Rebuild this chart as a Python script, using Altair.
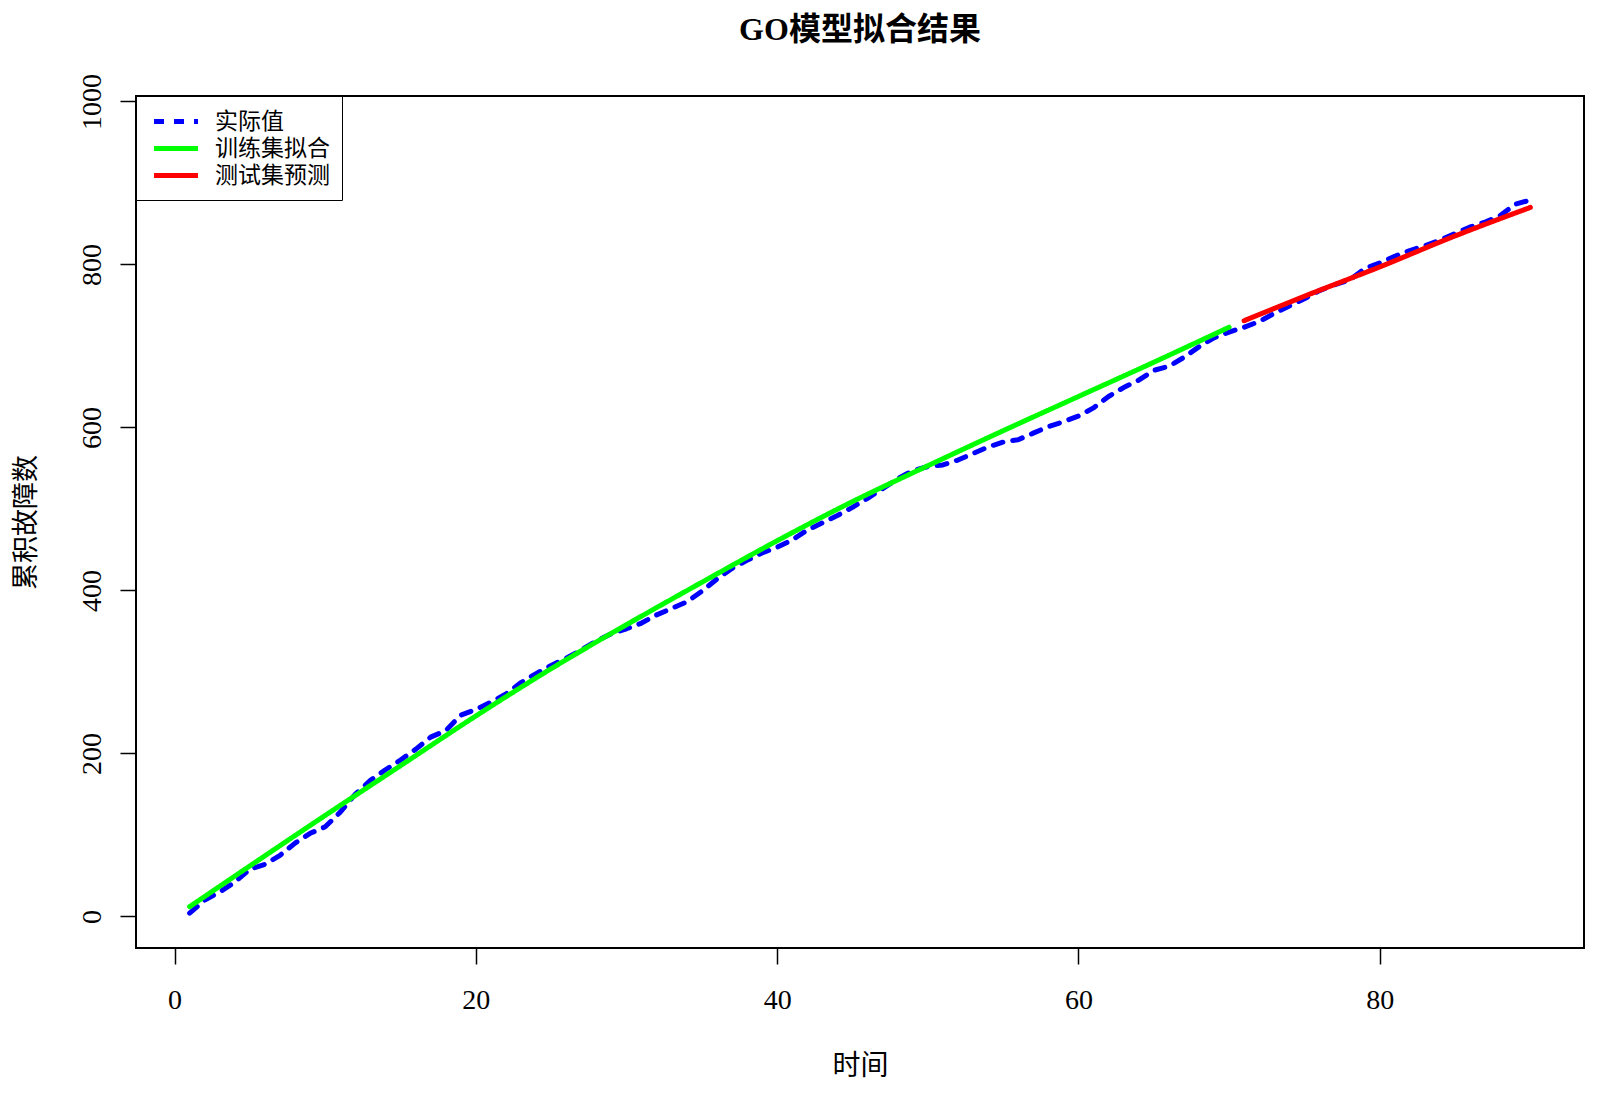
import altair as alt
import pandas as pd

# ---- data ----
t_actual = list(range(1, 91))
actual = [4, 20, 30, 42, 58, 64, 75, 90, 102, 110,
          128, 150, 167, 180, 192, 205, 220, 228, 247, 254,
          263, 273, 287, 298, 308, 317, 327, 338, 347, 353,
          360, 370, 378, 386, 399, 414, 427, 437, 446, 453,
          462, 474, 483, 492, 502, 513, 525, 537, 547, 552,
          554, 560, 568, 576, 582, 585, 593, 601, 607, 614,
          624, 638, 649, 658, 670, 675, 686, 699, 710, 717,
          723, 730, 740, 749, 758, 768, 775, 781, 795, 802,
          810, 817, 823, 830, 838, 846, 852, 860, 874, 879]

t_fit = [1, 5, 10, 15, 20, 25, 30, 35, 40, 45, 50, 55, 60, 65, 70]
fit = [12, 62, 124, 185, 246, 304, 358, 410, 461, 509, 553, 596, 638, 680, 723]

t_pred = [71, 75, 80, 85, 90]
pred = [731, 761, 797, 835, 870]

series_names = ["实际值", "训练集拟合", "测试集预测"]
series_colors = ["#0000ff", "#00ff00", "#ff0000"]
series_dash = [[10, 10], [1, 0], [1, 0]]

x_ticks = [0, 20, 40, 60, 80]
y_ticks = [0, 200, 400, 600, 800, 1000]

df_actual = pd.DataFrame({"t": t_actual, "v": actual, "series": series_names[0]})
df_fit = pd.DataFrame({"t": t_fit, "v": fit, "series": series_names[1]})
df_pred = pd.DataFrame({"t": t_pred, "v": pred, "series": series_names[2]})

SERIF = "Liberation Serif, Noto Sans CJK SC"
CJK = "Noto Sans CJK SC"

legend = alt.Legend(
    orient="none", legendX=0, legendY=0, title=None,
    padding=12, strokeColor="black", fillColor="white",
    symbolType="M-0.68,0H3.32", symbolSize=484, symbolStrokeWidth=5,
    labelFont=CJK, labelFontSize=23, labelColor="black",
    labelOffset=40, rowPadding=1,
)

x_enc = alt.X("t:Q", scale=alt.Scale(domain=[-2.56, 93.56], nice=False, zero=False),
              axis=alt.Axis(values=x_ticks, title="时间", titleFont=CJK, titleFontSize=28,
                            titleFontWeight="normal", titleY=118, titleBaseline="middle",
                            labelFont=SERIF, labelFontSize=28, labelBaseline="middle",
                            labelPadding=36, tickSize=16, tickWidth=1.5, tickColor="black",
                            domain=False, grid=False, labelColor="black", titleColor="black"))
y_enc = alt.Y("v:Q", scale=alt.Scale(domain=[-38.7, 1006.7], nice=False, zero=False),
              axis=alt.Axis(values=y_ticks, format="d", title="累积故障数", titleFont=CJK,
                            titleFontSize=27, titleFontWeight="normal", titleAngle=270,
                            titleX=-110, titleBaseline="middle",
                            labelFont=SERIF, labelFontSize=28, labelAngle=270,
                            labelAlign="center", labelBaseline="middle", labelPadding=28,
                            tickSize=16, tickWidth=1.5, tickColor="black",
                            domain=False, grid=False, labelColor="black", titleColor="black"))
color_enc = alt.Color("series:N", scale=alt.Scale(domain=series_names, range=series_colors),
                      legend=legend)
dash_enc = alt.StrokeDash("series:N", scale=alt.Scale(domain=series_names, range=series_dash),
                          legend=legend)


def layer(df, interp):
    return alt.Chart(df).mark_line(strokeWidth=5, strokeCap="round", strokeJoin="round",
                                   interpolate=interp).encode(
        x=x_enc, y=y_enc, color=color_enc, strokeDash=dash_enc)


chart = alt.layer(
    layer(df_actual, "linear"),
    layer(df_fit, "monotone"),
    layer(df_pred, "monotone"),
).properties(
    width=1448, height=852,
    title=alt.TitleParams("GO模型拟合结果", font=SERIF, fontSize=32, fontWeight="bold",
                          anchor="middle", baseline="middle", offset=11, color="black"),
    autosize=alt.AutoSizeParams(type="none"),
    padding={"left": 128, "top": 88, "right": 8, "bottom": 136},
    background="white",
).configure_view(stroke="black", strokeWidth=2)

chart.save("out.html", embed_options={"renderer": "svg", "actions": False})
